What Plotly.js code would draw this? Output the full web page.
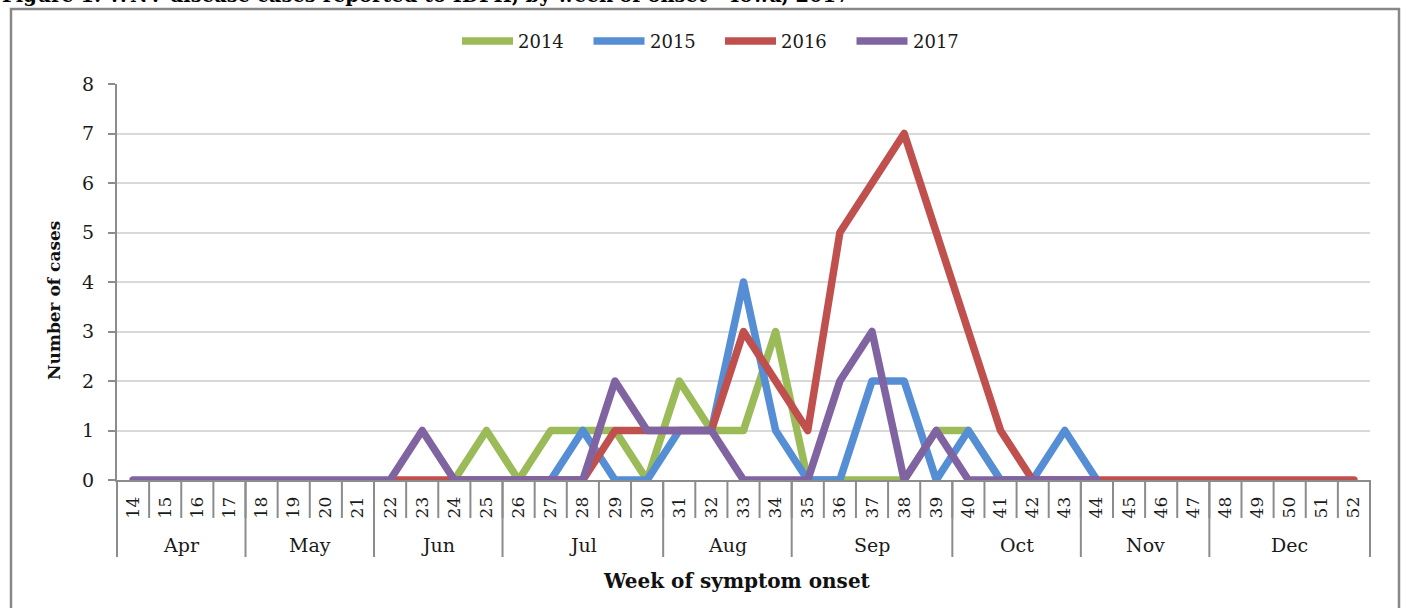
<!DOCTYPE html>
<html>
<head>
<meta charset="utf-8">
<script src="https://cdn.plot.ly/plotly-3.0.1.min.js"></script>
<style>
  html, body { margin: 0; padding: 0; background: #fff; }
  #chart { width: 1406px; height: 608px; }
  .scatterlayer path.js-line { stroke-linejoin: round !important; stroke-linecap: round !important; }
</style>
</head>
<body>
<div id="chart"></div>
<script>
// ---- data ----
var weeks = [14,15,16,17,18,19,20,21,22,23,24,25,26,27,28,29,30,31,32,33,34,35,36,37,38,39,40,41,42,43,44,45,46,47,48,49,50,51,52];
var weekLabels = weeks.map(String);

var monthNames = ["Apr","May","Jun","Jul","Aug","Sep","Oct","Nov","Dec"];
var monthFirstWeek = [14,18,22,26,31,35,40,44,48];
var monthLastWeek  = [17,21,25,30,34,39,43,47,52];

var seriesNames = ["2014","2015","2016","2017"];
var seriesColors = ["#9BBB59","#558ED5","#C0504D","#8064A2"];

var cases2014 = [null,null,null,null,null,null,null,null,null,null,
                 0,1,0,1,1,1,0,2,1,1,3,0,0,0,0,1,1,0,0,0,0,
                 null,null,null,null,null,null,null,null];
var cases2015 = [null,null,null,null,null,null,null,null,null,null,null,null,
                 0,0,1,0,0,1,1,4,1,0,0,2,2,0,1,0,0,1,0,
                 null,null,null,null,null,null,null,null];
var cases2016 = [null,null,null,null,null,null,null,null,
                 0,0,0,0,0,0,0,1,1,1,1,3,2,1,5,6,7,5,3,1,0,0,0,0,0,0,0,0,0,0,0];
var cases2017 = [0,0,0,0,0,0,0,0,0,1,0,0,0,0,0,2,1,1,1,0,0,0,2,3,0,1,0,0,0,0,0,
                 null,null,null,null,null,null,null,null];

var allSeries = [cases2014, cases2015, cases2016, cases2017];

// ---- geometry helpers ----
var W = 1406, H = 608;
var mL = 117, mR = 36, mT = 84, mB = 128;
var plotW = W - mL - mR, plotH = H - mT - mB;
var xMin = weeks[0] - 0.5, xMax = weeks[weeks.length - 1] + 0.5;
function xp(v) { return (v - xMin) / (xMax - xMin); }   // data x -> paper
function pxX(px) { return (px - mL) / plotW; }          // pixel x -> paper
function pxY(py) { return (H - mB - py) / plotH; }      // pixel y -> paper

var serif = "'DejaVu Serif', 'Liberation Serif', serif";
var grey = "#8C8C8C";

var traces = allSeries.map(function (vals, i) {
  return {
    type: "scatter", mode: "lines",
    x: weeks, y: vals, name: seriesNames[i],
    line: { color: seriesColors[i], width: 7.5 },
    connectgaps: false, showlegend: false, hoverinfo: "x+y+name"
  };
});

var shapes = [], annotations = [];

// week boundary ticks
for (var i = 0; i <= weeks.length; i++) {
  var b = xMin + i;
  shapes.push({ type: "line", xref: "paper", yref: "paper",
    x0: xp(b), x1: xp(b), y0: 0, y1: -38 / plotH,
    line: { color: grey, width: 2 } });
}
// month dividers + labels
for (var m = 0; m < monthNames.length; m++) {
  var left = monthFirstWeek[m] - 0.5, right = monthLastWeek[m] + 0.5;
  shapes.push({ type: "line", xref: "paper", yref: "paper",
    x0: xp(left), x1: xp(left), y0: 0, y1: -77 / plotH,
    line: { color: grey, width: 2 } });
  if (m === monthNames.length - 1) {
    shapes.push({ type: "line", xref: "paper", yref: "paper",
      x0: xp(right), x1: xp(right), y0: 0, y1: -77 / plotH,
      line: { color: grey, width: 2 } });
  }
  annotations.push({ xref: "paper", yref: "paper",
    x: xp((left + right) / 2), y: pxY(545), xanchor: "center", yanchor: "middle",
    text: monthNames[m], showarrow: false,
    font: { family: serif, size: 19, color: "#1a1a1a" } });
}

// custom legend
for (var s = 0; s < seriesNames.length; s++) {
  var x0 = 462 + s * 131.5;
  shapes.push({ type: "line", xref: "paper", yref: "paper",
    x0: pxX(x0), x1: pxX(x0 + 51), y0: pxY(41), y1: pxY(41),
    line: { color: seriesColors[s], width: 7.5 } });
  annotations.push({ xref: "paper", yref: "paper",
    x: pxX(x0 + 54), y: pxY(41), xanchor: "left", yanchor: "middle",
    text: seriesNames[s], showarrow: false,
    font: { family: serif, size: 18, color: "#1a1a1a" } });
}

// outer border
shapes.push({ type: "rect", xref: "paper", yref: "paper",
  x0: pxX(11), x1: pxX(1399), y0: pxY(640), y1: pxY(9),
  line: { color: "#888", width: 2.5 }, fillcolor: "rgba(0,0,0,0)", layer: "below" });

// titles
annotations.push({ xref: "paper", yref: "paper", x: pxX(0), y: pxY(9),
  xanchor: "left", yanchor: "bottom", showarrow: false,
  text: "<b>Figure 1: WNV disease cases reported to IDPH, by week of onset – Iowa, 2017</b>",
  font: { family: serif, size: 19.5, color: "#000" } });
annotations.push({ xref: "paper", yref: "paper", x: pxX(737), y: pxY(581),
  xanchor: "center", yanchor: "middle", showarrow: false,
  text: "<b>Week of symptom onset</b>",
  font: { family: serif, size: 20, color: "#111" } });
annotations.push({ xref: "paper", yref: "paper", x: pxX(54), y: pxY(301),
  xanchor: "center", yanchor: "middle", showarrow: false, textangle: -90,
  text: "<b>Number of cases</b>",
  font: { family: serif, size: 17, color: "#111" } });

var layout = {
  width: W, height: H,
  margin: { l: mL, r: mR, t: mT, b: mB, pad: 0 },
  paper_bgcolor: "#fff", plot_bgcolor: "#fff",
  showlegend: false,
  xaxis: {
    type: "linear", range: [xMin, xMax], fixedrange: true,
    tickmode: "array", tickvals: weeks, ticktext: weekLabels,
    tickangle: -90, ticks: "", ticklabelstandoff: 8,
    showgrid: false, zeroline: false,
    showline: true, linecolor: grey, linewidth: 2,
    tickfont: { family: serif, size: 17, color: "#1a1a1a" }
  },
  yaxis: {
    range: [0, 8], dtick: 1, tick0: 0, fixedrange: true,
    ticks: "outside", ticklen: 7, tickwidth: 2, tickcolor: grey,
    ticklabelstandoff: 10,
    showgrid: true, gridcolor: "#D9D9D9", gridwidth: 2,
    zeroline: false, showline: true, linecolor: grey, linewidth: 2,
    tickfont: { family: serif, size: 19, color: "#1a1a1a" }
  },
  shapes: shapes,
  annotations: annotations
};

Plotly.newPlot("chart", traces, layout, { displayModeBar: false, staticPlot: true });
</script>
</body>
</html>
